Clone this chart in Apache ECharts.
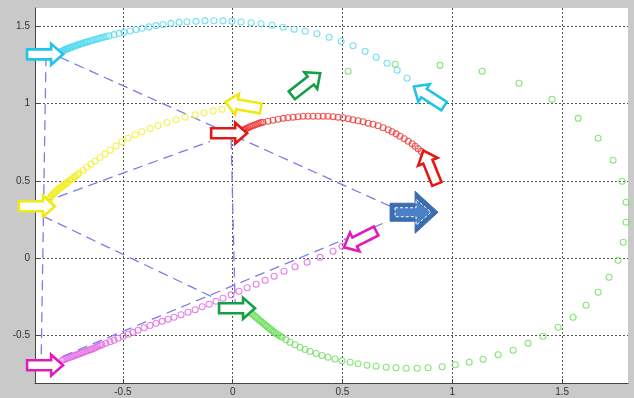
<!DOCTYPE html>
<html>
<head>
<meta charset="utf-8">
<script src="https://cdn.jsdelivr.net/npm/echarts@6/dist/echarts.min.js"></script>
<style>
  html, body { margin: 0; padding: 0; background: #c9c9c9; }
  #chart { width: 634px; height: 398px; }
</style>
</head>
<body>
<div id="chart"></div>
<script>
// Axis ticks
const xTicks = [-0.5, 0, 0.5, 1, 1.5];
const yTicks = [-0.5, 0, 0.5, 1, 1.5];

// Recorded trajectories of the five robots, [x, y]
const cyanPath = [
  [-0.786,1.329],[-0.782,1.332],[-0.777,1.336],[-0.773,1.339],[-0.768,1.342],[-0.764,1.345],
  [-0.759,1.349],[-0.755,1.351],[-0.750,1.354],[-0.745,1.357],[-0.740,1.359],[-0.734,1.362],
  [-0.727,1.366],[-0.720,1.370],[-0.713,1.373],[-0.706,1.376],[-0.699,1.380],[-0.692,1.383],
  [-0.686,1.386],[-0.679,1.389],[-0.672,1.392],[-0.665,1.395],[-0.658,1.398],[-0.649,1.402],
  [-0.640,1.405],[-0.631,1.409],[-0.622,1.413],[-0.613,1.416],[-0.604,1.420],[-0.595,1.424],
  [-0.586,1.427],[-0.575,1.431],[-0.563,1.435],[-0.540,1.443],
  [-0.517,1.451],[-0.495,1.458],[-0.467,1.467],[-0.440,1.476],[-0.413,1.484],[-0.381,1.493],
  [-0.349,1.501],[-0.317,1.509],[-0.281,1.516],[-0.244,1.522],[-0.208,1.526],[-0.167,1.529],
  [-0.126,1.532],[-0.085,1.533],[-0.044,1.532],[-0.003,1.529],[0.038,1.525],[0.084,1.520],
  [0.129,1.513],[0.179,1.504],[0.230,1.491],[0.280,1.478],[0.330,1.465],[0.384,1.449],
  [0.439,1.426],[0.494,1.400],[0.548,1.371],[0.603,1.336],[0.653,1.297],[0.703,1.258],
  [0.749,1.213],[0.794,1.162]
];
const yellowPath = [
  [-0.836,0.374],[-0.834,0.380],[-0.832,0.387],[-0.830,0.393],[-0.827,0.400],[-0.823,0.407],
  [-0.818,0.413],[-0.814,0.420],[-0.809,0.426],[-0.805,0.432],[-0.800,0.438],[-0.796,0.443],
  [-0.791,0.448],[-0.786,0.453],[-0.781,0.458],[-0.777,0.463],[-0.772,0.468],[-0.768,0.473],
  [-0.763,0.478],[-0.758,0.483],[-0.754,0.488],[-0.747,0.496],[-0.740,0.503],[-0.734,0.510],
  [-0.727,0.518],[-0.720,0.525],[-0.713,0.532],[-0.706,0.540],[-0.699,0.549],
  [-0.681,0.568],[-0.663,0.587],[-0.645,0.607],
  [-0.627,0.626],[-0.604,0.650],[-0.581,0.673],[-0.558,0.697],[-0.531,0.725],[-0.504,0.752],
  [-0.476,0.774],[-0.444,0.797],[-0.413,0.816],[-0.376,0.837],[-0.340,0.856],[-0.299,0.876],
  [-0.258,0.894],[-0.217,0.910],[-0.171,0.925],[-0.130,0.939],[-0.089,0.951],[-0.048,0.962]
];
const redPath = [
  [0.047,0.826],[0.051,0.829],[0.056,0.832],[0.063,0.837],[0.070,0.842],[0.077,0.847],
  [0.084,0.852],[0.093,0.856],[0.102,0.861],[0.111,0.866],[0.120,0.871],[0.129,0.875],
  [0.138,0.878],[0.161,0.884],[0.184,0.891],[0.207,0.897],[0.230,0.903],[0.252,0.907],
  [0.275,0.910],[0.298,0.913],[0.321,0.916],[0.343,0.916],[0.366,0.916],[0.389,0.916],
  [0.412,0.916],[0.434,0.916],[0.457,0.913],[0.480,0.910],[0.503,0.907],[0.526,0.900],
  [0.548,0.894],[0.571,0.887],[0.594,0.881],[0.617,0.871],[0.639,0.865],[0.662,0.855],
  [0.685,0.842],[0.708,0.829],[0.726,0.816],[0.744,0.803],[0.762,0.787],[0.781,0.771],
  [0.799,0.755],[0.817,0.739],[0.831,0.723],[0.844,0.707],[0.858,0.690],[0.872,0.671]
];
const magentaPath = [
  [-0.777,-0.658],[-0.768,-0.653],[-0.759,-0.649],[-0.750,-0.644],[-0.740,-0.639],[-0.731,-0.634],
  [-0.722,-0.629],[-0.713,-0.624],[-0.704,-0.619],[-0.695,-0.615],[-0.686,-0.610],[-0.677,-0.605],
  [-0.668,-0.600],[-0.658,-0.595],[-0.649,-0.590],[-0.640,-0.586],[-0.631,-0.581],[-0.622,-0.574],
  [-0.613,-0.568],[-0.604,-0.563],[-0.595,-0.558],[-0.577,-0.549],
  [-0.558,-0.539],[-0.540,-0.529],[-0.522,-0.516],[-0.499,-0.503],[-0.476,-0.490],[-0.454,-0.478],
  [-0.431,-0.465],[-0.403,-0.448],[-0.376,-0.434],[-0.349,-0.419],[-0.321,-0.407],[-0.294,-0.394],
  [-0.267,-0.381],[-0.235,-0.365],[-0.203,-0.348],[-0.171,-0.332],[-0.139,-0.313],[-0.107,-0.297],
  [-0.076,-0.277],[-0.044,-0.258],[-0.007,-0.236],[0.029,-0.213],[0.066,-0.190],[0.107,-0.168],
  [0.148,-0.142],[0.189,-0.116],[0.234,-0.084],[0.284,-0.055],[0.339,-0.026],[0.398,0.006],
  [0.457,0.045],[0.498,0.077]
];
const greenPath = [
  [0.079,-0.348],[0.086,-0.356],[0.093,-0.365],[0.100,-0.373],[0.107,-0.381],[0.113,-0.389],
  [0.120,-0.397],[0.127,-0.405],[0.134,-0.413],[0.141,-0.421],[0.148,-0.429],[0.154,-0.437],
  [0.161,-0.445],[0.168,-0.453],[0.175,-0.461],[0.182,-0.470],[0.189,-0.478],[0.198,-0.486],
  [0.207,-0.494],[0.216,-0.502],[0.225,-0.510],[0.243,-0.526],
  [0.261,-0.542],[0.284,-0.558],[0.307,-0.574],[0.330,-0.589],[0.352,-0.602],[0.380,-0.615],
  [0.407,-0.628],[0.434,-0.639],[0.466,-0.650],[0.498,-0.661],[0.535,-0.671],[0.571,-0.681],
  [0.612,-0.690],[0.653,-0.697],[0.699,-0.703],[0.744,-0.707],[0.790,-0.710],[0.840,-0.710],
  [0.890,-0.707],[0.954,-0.700],[1.013,-0.687],[1.077,-0.671],[1.140,-0.652],[1.209,-0.623],
  [1.277,-0.594],[1.345,-0.549],[1.413,-0.503],[1.482,-0.445],[1.550,-0.381],[1.609,-0.303],
  [1.664,-0.219],[1.714,-0.123],[1.755,-0.013],[1.778,0.103],[1.791,0.232],[1.791,0.361],
  [1.773,0.497],[1.732,0.632],[1.664,0.774],[1.573,0.903],[1.454,1.026],[1.304,1.129],
  [1.136,1.207],[0.944,1.245],[0.740,1.252],[0.526,1.207]
];

// Dashed formation links, [[x0, y0], [x1, y1]]
const linkLines = [
  [[-0.850, 1.303], [-0.872, -0.665]],
  [[-0.786, 1.297], [0.717, 0.336]],
  [[-0.863, 0.361], [-0.103, 0.754]],
  [[-0.863, 0.271], [-0.089, -0.252]],
  [[-0.772, -0.632], [0.708, 0.239]],
  [[-0.007, 0.768], [0.011, -0.284]]
];

// Robot poses at start and end (centre x, centre y, heading in degrees)
const arrowRobot   = ['cyan', 'yellow', 'magenta', 'red', 'green', 'yellow', 'green', 'cyan', 'red', 'magenta'];
const arrowX       = [-0.854, -0.891, -0.854, -0.016, 0.020, 0.047, 0.334, 0.894, 0.899, 0.580];
const arrowY       = [1.316, 0.336, -0.690, 0.807, -0.323, 0.987, 1.123, 1.045, 0.587, 0.123];
const arrowHeading = [0, 0, 0, 0, 0, 170, 38, 147, 112, 207];

// Formation target pose
const targetX = [0.826];
const targetY = [0.297];
const targetHeading = [0];

const trailColor = { cyan: '#52d9ef', yellow: '#f3ef2c', red: '#ec3636', magenta: '#e262e2', green: '#6ade5a' };
const arrowColor = { cyan: '#20c4e6', yellow: '#efeb12', red: '#e41616', magenta: '#e01cbe', green: '#15a048' };

function arrowPoints(L, b, h, hl) {
  const t = L / 2, n = L / 2 - hl;
  return [[-t, -b], [n, -b], [n, -h], [t, 0], [n, h], [n, b], [-t, b]];
}

const chart = echarts.init(document.getElementById('chart'), null, { renderer: 'canvas' });

const trails = [
  ['cyan', cyanPath], ['yellow', yellowPath], ['red', redPath], ['magenta', magentaPath], ['green', greenPath]
].map(([name, pts]) => ({
  type: 'scatter',
  name,
  data: pts,
  symbol: 'circle',
  symbolSize: 6,
  silent: true,
  clip: false,
  z: 3,
  itemStyle: { color: 'rgba(255,255,255,0)', borderColor: trailColor[name], borderWidth: 1.1 }
}));

const links = linkLines.map(seg => ({
  type: 'line',
  data: seg,
  symbol: 'none',
  silent: true,
  z: 2,
  lineStyle: { color: '#7e7cea', width: 1.3, type: [10, 6] }
}));

chart.setOption({
  animation: false,
  backgroundColor: '#c9c9c9',
  grid: { left: 35, right: 6, top: 8, bottom: 15, show: true, backgroundColor: '#ffffff', borderWidth: 0, outerBoundsMode: 'none' },
  xAxis: {
    type: 'value', min: -0.9, max: 1.8,
    axisLine: { show: true, onZero: false, lineStyle: { color: '#444', width: 1 } },
    axisTick: { show: true, inside: true, length: 4, customValues: xTicks, lineStyle: { color: '#444' } },
    axisLabel: { customValues: xTicks, color: '#333', fontSize: 10, fontFamily: 'Liberation Sans', margin: 4 },
    splitLine: { show: true, lineStyle: { color: '#555', width: 1, type: [2, 2] } }
  },
  yAxis: {
    type: 'value', min: -0.805, max: 1.615,
    axisLine: { show: true, onZero: false, lineStyle: { color: '#444', width: 1 } },
    axisTick: { show: true, inside: true, length: 4, customValues: yTicks, lineStyle: { color: '#444' } },
    axisLabel: { customValues: yTicks, color: '#333', fontSize: 10, fontFamily: 'Liberation Sans', margin: 5 },
    splitLine: { show: true, lineStyle: { color: '#555', width: 1, type: [2, 2] } }
  },
  series: [
    ...links,
    ...trails,
    {
      type: 'custom',
      silent: true,
      clip: false,
      z: 5,
      encode: { x: 0, y: 1 },
      data: arrowX.map((x, i) => [x, arrowY[i], arrowHeading[i]]),
      renderItem: (params, api) => {
        const c = api.coord([api.value(0), api.value(1)]);
        return {
          type: 'polygon',
          x: c[0], y: c[1],
          rotation: api.value(2) * Math.PI / 180,
          shape: { points: arrowPoints(36, 5, 10.5, 12) },
          style: { fill: '#ffffff', stroke: arrowColor[arrowRobot[params.dataIndex]], lineWidth: 2.6, lineJoin: 'miter' }
        };
      }
    },
    {
      type: 'custom',
      silent: true,
      clip: false,
      z: 6,
      encode: { x: 0, y: 1 },
      data: targetX.map((x, i) => [x, targetY[i], targetHeading[i]]),
      renderItem: (params, api) => {
        const c = api.coord([api.value(0), api.value(1)]);
        return {
          type: 'group',
          x: c[0], y: c[1],
          rotation: api.value(2) * Math.PI / 180,
          children: [
            { type: 'polygon', shape: { points: arrowPoints(48, 9, 21, 23) },
              style: { fill: '#3c6db2', stroke: '#3c6db2', lineWidth: 1, lineJoin: 'miter' } },
            { type: 'polygon', shape: { points: [[-19, -4.5], [2, -4.5], [2, -13], [17, 0], [2, 13], [2, 4.5], [-19, 4.5]] },
              style: { fill: '#4a80c4', stroke: '#ffffff', lineWidth: 1, lineDash: [3, 2] } }
          ]
        };
      }
    }
  ]
});
</script>
</body>
</html>
